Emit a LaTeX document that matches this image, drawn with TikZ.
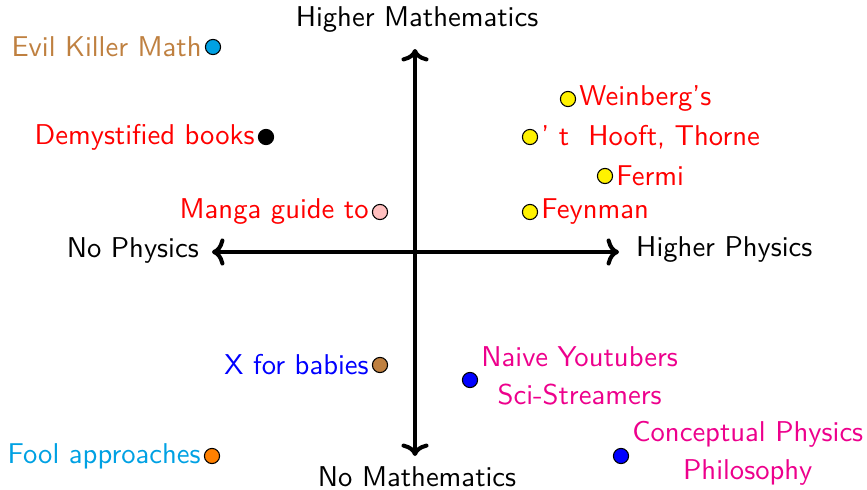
\documentclass[tikz,border=0pt]{standalone}
\usepackage{xcolor}
\usetikzlibrary{arrows.meta}
\definecolor{cyanish}{rgb}{0,0.63,0.89}
\definecolor{magentaish}{rgb}{0.93,0.0,0.55}
\definecolor{brownish}{rgb}{0.75,0.5,0.25}
\begin{document}
\begin{tikzpicture}[x=0.37pt,y=-0.37pt,font=\sffamily\fontsize{10.6}{14}\selectfont,
  axis/.style={line width=1.5pt,-{To[length=4.6pt,width=10pt]}},
  dot/.style={circle,draw=black,inner sep=0pt,minimum size=5.6pt},
  lab/.style={inner sep=1pt}]
\useasboundingbox (0,0) rectangle (867,490);
\coordinate (O) at (415,252);
\coordinate (L) at (212,252);
\coordinate (R) at (619,252);
\coordinate (T) at (415,49);
\coordinate (B) at (415,456);
\node[lab] (top) at (417,20) {Higher Mathematics};
\node[lab] (bot) at (417,477) {No Mathematics};
\node[lab,anchor=east] (left) at (202,250) {No Physics};
\node[lab,anchor=west] (right) at (633,250) {Higher Physics};
\draw[axis] (O) -- (L);
\draw[axis] (O) -- (R);
\draw[axis] (O) -- (T);
\draw[axis] (O) -- (B);
% points
\node[dot,fill=cyanish] (ekm) at (213,47) {};
\node[lab,anchor=east,text=brownish] at (ekm.west) {Evil Killer Math};
\node[dot,fill=black] (dem) at (266,137) {};
\node[lab,anchor=east,text=red] at (dem.west) {Demystified books};
\node[dot,fill=pink] (man) at (380,212) {};
\node[lab,anchor=east,text=red] at (man.west) {Manga guide to};
\node[dot,fill=yellow] (wei) at (568,99) {};
\node[lab,anchor=west,text=red] at (wei.east) {Weinberg's};
\node[dot,fill=yellow] (tho) at (530,137) {};
\node[lab,anchor=west,text=red] at (tho.east) {' t\ \ Hooft, Thorne};
\node[dot,fill=yellow] (fer) at (605,176) {};
\node[lab,anchor=west,text=red] at (fer.east) {Fermi};
\node[dot,fill=yellow] (fey) at (530,212) {};
\node[lab,anchor=west,text=red] at (fey.east) {Feynman};
\node[dot,fill=brownish] (bab) at (380,365) {};
\node[lab,anchor=east,text=blue] at (bab.west) {X for babies};
\node[dot,fill=blue] (you) at (470,380) {};
\node[lab,anchor=west,text=magentaish,align=center] at ([yshift=1.5pt]you.east) {Naive Youtubers\\Sci-Streamers};
\node[dot,fill=orange] (foo) at (212,456) {};
\node[lab,anchor=east,text=cyanish] at (foo.west) {Fool approaches};
\node[dot,fill=blue] (con) at (621,456) {};
\node[lab,anchor=west,text=magentaish,align=center] at ([yshift=1pt]con.east) {Conceptual Physics\\Philosophy};
\end{tikzpicture}
\end{document}
